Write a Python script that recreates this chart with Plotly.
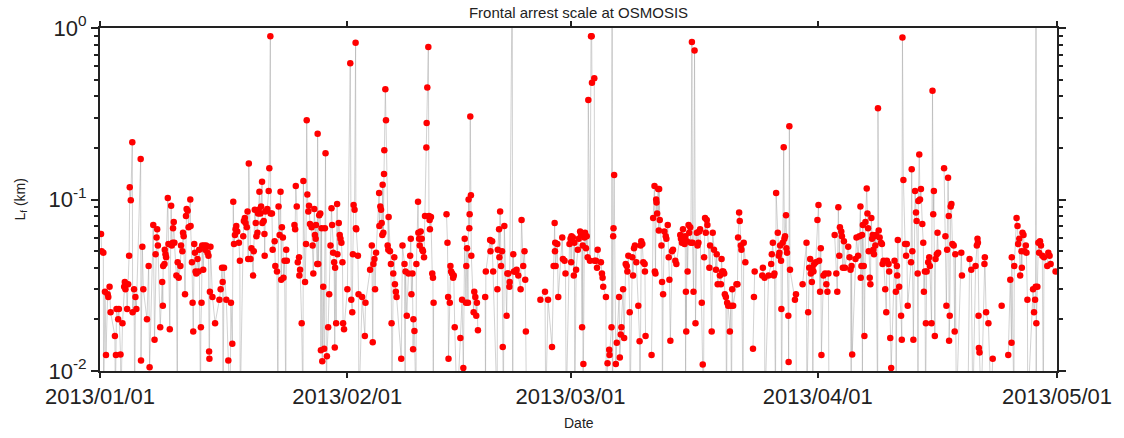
import numpy as np
import pandas as pd
import plotly.graph_objects as go

# Frontal arrest scale L_f (km) at the OSMOSIS site, Jan-Apr 2013.
# Times are days since 2013-01-01 00:00.

jan_t = [0.13, 0.21, 0.42, 0.45, 0.62, 0.75, 0.96, 1.04, 1.20, 1.33, 1.87, 1.92, 2.0, 2.07, 2.28, 2.37, 2.57, 2.61,
         2.82, 3.03, 3.11, 3.19, 3.32, 3.40, 3.53, 3.65, 3.73, 3.86, 4.05, 4.09, 4.27, 4.35, 4.44, 4.56, 5.10, 5.14,
         5.31, 5.43, 5.89, 6.10, 6.22, 6.68, 6.84, 6.97, 7.09, 7.17, 7.26, 7.55, 7.80, 7.88, 7.92, 8.09, 8.12, 8.21,
         8.29, 8.50, 8.58, 8.75, 8.92, 9.00, 9.12, 9.16, 9.25, 9.33, 9.58, 9.70, 9.74, 9.87, 10.08, 10.16, 10.33,
         10.41, 10.49, 10.66, 10.78, 10.86, 10.99, 11.11, 11.32, 11.36, 11.53, 11.61, 11.69, 11.82, 11.90, 11.98,
         12.07, 12.23, 12.36, 12.44, 12.60, 12.65, 12.73, 12.81, 12.94, 13.06, 13.19, 13.31, 13.48, 13.60, 13.68,
         13.72, 13.78, 13.85, 14.10, 14.43, 14.97, 15.13, 15.30, 15.38, 15.43, 15.55, 15.84, 16.09, 16.30, 16.42,
         16.59, 16.71, 16.80, 16.92, 17.00, 17.09, 17.21, 17.42, 17.54, 17.58, 17.96, 18.04, 18.16, 18.25, 18.41,
         18.50, 18.58, 18.66, 18.87, 18.99, 19.20, 19.28, 19.41, 19.53, 19.61, 19.74, 19.82, 19.90, 19.99, 20.11,
         20.20, 20.32, 20.36, 20.53, 20.62, 20.65, 20.73, 20.98, 21.15, 21.23, 21.36, 21.40, 21.56, 21.65, 21.90,
         21.98, 22.19, 22.31, 22.39, 22.52, 22.64, 22.72, 22.81, 22.93, 23.01, 23.14, 23.30, 23.35, 23.43, 24.38,
         24.47, 24.55, 24.67, 24.80, 24.96, 25.00, 25.09, 25.29, 25.45, 25.50, 25.71, 25.83, 25.92, 26.00, 26.12,
         26.21, 26.33, 26.54, 26.66, 26.75, 26.87, 26.95, 27.04, 27.08, 27.24, 27.29, 27.37, 27.49, 27.62, 27.70,
         27.78, 27.87, 27.99, 28.11, 28.20, 28.28, 28.40, 28.45, 28.61, 28.74, 28.90, 29.03, 29.11, 29.23, 29.36,
         29.44, 29.48, 29.61, 29.73, 29.77, 29.94, 30.06, 30.15, 30.27, 30.40, 30.48, 30.60]
jan_L = [0.063, 0.050, 0.049, 0.006, 0.029, 0.0124, 0.028, 0.027, 0.031, 0.022, 0.016, 0.006, 0.0124, 0.023, 0.020,
         0.023, 0.0125, 0.006, 0.019, 0.031, 0.033, 0.030, 0.032, 0.023, 0.032, 0.047, 0.118, 0.099, 0.216, 0.022,
         0.030, 0.006, 0.027, 0.023, 0.172, 0.0115, 0.053, 0.030, 0.020, 0.041, 0.0105, 0.071, 0.0152, 0.048, 0.060,
         0.067, 0.054, 0.018, 0.033, 0.024, 0.041, 0.042, 0.051, 0.048, 0.046, 0.102, 0.055, 0.0175, 0.092, 0.054,
         0.056, 0.068, 0.074, 0.056, 0.036, 0.006, 0.043, 0.035, 0.041, 0.054, 0.050, 0.064, 0.061, 0.028, 0.080,
         0.088, 0.086, 0.069, 0.100, 0.070, 0.043, 0.025, 0.017, 0.055, 0.049, 0.038, 0.037, 0.045, 0.038, 0.051,
         0.006, 0.018, 0.025, 0.054, 0.039, 0.054, 0.051, 0.054, 0.049, 0.047, 0.0130, 0.0118, 0.029, 0.053, 0.027,
         0.019, 0.026, 0.030, 0.040, 0.033, 0.006, 0.040, 0.026, 0.0115, 0.006, 0.025, 0.0144, 0.097, 0.055, 0.062,
         0.067, 0.070, 0.065, 0.056, 0.044, 0.006, 0.061, 0.075, 0.078, 0.073, 0.069, 0.085, 0.045, 0.162, 0.045,
         0.052, 0.036, 0.050, 0.087, 0.073, 0.061, 0.064, 0.083, 0.087, 0.111, 0.083, 0.091, 0.127, 0.073, 0.075,
         0.063, 0.047, 0.085, 0.088, 0.112, 0.152, 0.895, 0.083, 0.083, 0.051, 0.057, 0.041, 0.038, 0.006, 0.091,
         0.062, 0.111, 0.034, 0.069, 0.060, 0.035, 0.044, 0.006, 0.051, 0.044, 0.071, 0.067, 0.120, 0.091, 0.043,
         0.046, 0.036, 0.039, 0.019, 0.006, 0.128, 0.033, 0.055, 0.29, 0.107, 0.085, 0.092, 0.072, 0.069, 0.054,
         0.037, 0.088, 0.062, 0.059, 0.071, 0.042, 0.242, 0.042, 0.081, 0.083, 0.0132, 0.068, 0.0114, 0.031, 0.0135,
         0.068, 0.186, 0.006, 0.0122, 0.018, 0.028, 0.054, 0.089, 0.071, 0.049, 0.043, 0.0137, 0.040, 0.019, 0.094,
         0.048, 0.073, 0.062, 0.059, 0.056, 0.043, 0.019, 0.0175]

feb_t = [31.02, 31.38, 31.51, 31.63, 31.71, 31.80, 31.92, 32.05, 32.09, 32.13, 32.34, 32.42, 32.46, 32.87, 33.21,
         33.29, 33.87, 34.08, 34.20, 34.28, 34.41, 34.49, 34.62, 35.00, 35.03, 35.15, 35.24, 35.32, 35.40, 35.44,
         35.53, 35.61, 35.65, 35.78, 35.86, 36.07, 36.15, 36.19, 36.36, 36.48, 36.56, 36.60, 36.77, 36.90, 36.98,
         37.10, 37.19, 37.77, 37.93, 38.18, 38.26, 38.31, 38.47, 38.68, 38.89, 38.97, 39.05, 39.18, 39.26, 39.30,
         39.43, 39.62, 39.67, 39.88, 39.92, 40.01, 40.09, 40.21, 40.34, 40.42, 40.50, 40.63, 40.75, 40.92, 40.96,
         41.04, 41.17, 41.25, 41.33, 41.37, 41.50, 41.66, 41.75, 41.79, 41.83, 43.45, 43.57, 43.65, 43.70, 43.86,
         43.94, 44.03, 44.15, 44.28, 44.36, 44.48, 44.77, 45.19, 45.40, 45.56, 45.73, 45.89, 45.93, 46.02, 46.14,
         46.22, 46.31, 46.35, 46.43, 46.51, 46.56, 46.85, 46.93, 47.06, 47.18, 47.26, 47.39, 48.30, 48.34, 48.38,
         48.92, 48.96, 49.17, 49.30, 49.80, 49.83, 49.88, 50.04, 50.08, 50.17, 50.29, 50.41, 50.50, 50.58, 50.70,
         50.99, 51.08, 51.20, 51.33, 51.37, 51.70, 51.74, 51.82, 51.91, 52.03, 52.16, 52.24, 52.45, 52.74, 52.86,
         53.07, 53.23, 53.32, 53.40, 53.48, 55.22, 55.80, 55.89, 56.18, 56.68, 56.88, 57.01, 57.05, 57.08, 57.13,
         57.34, 57.46, 57.96, 58.04, 58.25, 58.37, 58.46, 58.87]
feb_L = [0.030, 0.622, 0.026, 0.022, 0.048, 0.093, 0.087, 0.82, 0.068, 0.067, 0.047, 0.028, 0.006, 0.027, 0.016,
         0.025, 0.039, 0.054, 0.0147, 0.042, 0.045, 0.030, 0.049, 0.109, 0.070, 0.091, 0.087, 0.073, 0.062, 0.122,
         0.064, 0.141, 0.194, 0.44, 0.29, 0.054, 0.051, 0.079, 0.050, 0.042, 0.019, 0.006, 0.037, 0.046, 0.032,
         0.029, 0.027, 0.0118, 0.054, 0.042, 0.006, 0.038, 0.021, 0.037, 0.047, 0.059, 0.028, 0.037, 0.0134, 0.020,
         0.0171, 0.006, 0.042, 0.097, 0.064, 0.059, 0.054, 0.065, 0.059, 0.051, 0.050, 0.046, 0.080, 0.201, 0.279,
         0.45, 0.776, 0.080, 0.076, 0.067, 0.079, 0.037, 0.035, 0.006, 0.025, 0.082, 0.056, 0.027, 0.0118, 0.025,
         0.041, 0.038, 0.037, 0.035, 0.036, 0.018, 0.006, 0.0156, 0.026, 0.0104, 0.059, 0.025, 0.041, 0.052, 0.025,
         0.100, 0.068, 0.082, 0.305, 0.106, 0.047, 0.022, 0.029, 0.027, 0.021, 0.025, 0.0173, 0.027, 0.006, 0.038,
         0.058, 0.050, 0.057, 0.038, 0.006, 0.030, 0.051, 0.067, 0.046, 0.085, 0.041, 0.050, 0.0138, 0.006, 0.070,
         0.021, 0.037, 0.037, 0.031, 0.033, 3.0, 0.003, 0.048, 0.038, 0.038, 0.038, 0.039, 0.036, 0.030, 0.076,
         0.041, 0.050, 0.034, 0.017, 0.006, 0.026, 0.029, 0.006, 0.026, 0.0138, 0.041, 0.073, 0.050, 0.056, 0.041,
         0.055, 0.027, 0.060, 0.045, 0.044, 0.037, 0.006, 0.055]

mar_t = [59.00, 59.08, 59.12, 59.29, 59.41, 59.49, 59.53, 59.70, 59.91, 60.03, 60.20, 60.32, 60.45, 60.53, 60.57,
         60.61, 60.74, 60.82, 60.94, 61.03, 61.15, 61.23, 61.44, 61.57, 61.65, 61.69, 61.98, 62.02, 62.19, 62.32,
         62.40, 62.81, 62.94, 63.02, 63.10, 63.44, 63.48, 63.64, 63.85, 63.89, 64.14, 64.22, 64.26, 64.35, 64.39,
         64.47, 64.68, 64.80, 65.09, 65.18, 65.30, 65.38, 65.59, 65.72, 65.92, 66.05, 66.13, 66.25, 66.42, 66.46,
         66.75, 66.84, 66.96, 67.08, 67.25, 67.50, 67.66, 67.71, 67.79, 67.87, 68.00, 68.12, 68.29, 68.33, 68.41,
         69.16, 69.36, 69.53, 69.57, 69.65, 69.74, 69.78, 69.86, 69.99, 70.07, 70.11, 70.19, 70.40, 70.48, 70.52,
         70.61, 70.77, 70.94, 71.02, 71.19, 71.31, 71.40, 71.52, 71.73, 71.85, 72.14, 72.27, 72.76, 72.85, 72.97,
         73.10, 73.18, 73.30, 73.39, 73.43, 73.47, 73.51, 73.60, 73.68, 73.80, 73.88, 74.01, 74.09, 74.22, 74.30,
         74.42, 74.55, 74.67, 74.84, 74.92, 75.04, 75.13, 75.25, 75.46, 75.58, 75.67, 75.75, 75.87, 75.96, 76.08,
         76.16, 76.41, 76.50, 76.70, 76.83, 76.99, 77.24, 77.33, 77.45, 77.73, 77.86, 77.94, 78.02, 78.15, 78.27,
         78.35, 78.48, 78.56, 78.64, 78.77, 78.98, 79.10, 79.18, 79.27, 79.39, 79.81, 79.93, 80.01, 80.14, 80.22,
         80.35, 80.43, 80.63, 80.72, 80.92, 81.88, 82.00, 82.09, 83.04, 83.12, 83.33, 83.37, 83.83, 84.16, 84.24,
         84.37, 84.49, 84.57, 84.70, 84.78, 84.99, 85.11, 85.19, 85.28, 85.40, 85.44, 85.47, 85.61, 85.73, 85.82,
         85.90, 86.02, 86.07, 86.15, 86.31, 86.35, 86.44, 86.52, 87.14, 87.27, 87.31, 88.10, 88.59, 88.63, 88.80,
         88.93, 89.05, 89.13, 89.26, 89.34, 89.38, 89.46, 89.55, 89.75, 89.96]
mar_L = [0.059, 0.043, 0.061, 0.060, 0.036, 0.056, 0.006, 0.039, 0.051, 0.059, 0.065, 0.062, 0.018, 0.054, 0.006,
         0.0110, 0.060, 0.064, 0.052, 0.061, 0.046, 0.38, 0.044, 0.895, 0.895, 0.48, 0.51, 0.044, 0.044, 0.040,
         0.051, 0.043, 0.037, 0.035, 0.031, 0.027, 0.006, 0.0111, 0.0133, 0.0124, 0.018, 3.0, 0.003, 0.061, 0.068,
         0.139, 0.0110, 0.0146, 0.027, 0.0120, 0.0163, 0.018, 0.030, 0.0156, 0.042, 0.041, 0.038, 0.047, 0.022,
         0.006, 0.046, 0.036, 0.052, 0.054, 0.043, 0.024, 0.0149, 0.006, 0.054, 0.057, 0.055, 0.043, 0.042, 0.038,
         0.016, 0.0124, 0.078, 0.120, 0.038, 0.037, 0.100, 0.096, 0.083, 0.115, 0.066, 0.115, 0.076, 0.054, 0.033,
         0.006, 0.028, 0.065, 0.061, 0.059, 0.071, 0.046, 0.034, 0.015, 0.050, 0.051, 0.044, 0.042, 0.062, 0.059,
         0.056, 0.067, 0.059, 0.055, 0.061, 0.006, 0.029, 0.017, 0.057, 0.038, 0.071, 0.064, 0.069, 0.056, 0.83,
         0.056, 0.029, 0.74, 0.019, 0.064, 0.054, 0.056, 0.065, 0.067, 0.025, 0.0109, 0.006, 0.046, 0.078, 0.064,
         0.076, 0.071, 0.040, 0.054, 0.017, 0.064, 0.051, 0.039, 0.048, 0.032, 0.036, 0.032, 0.045, 0.038, 0.038,
         0.037, 0.028, 0.027, 0.006, 0.025, 0.024, 0.017, 0.024, 0.006, 0.030, 0.024, 0.032, 0.032, 0.060, 0.084,
         0.075, 0.054, 0.051, 0.006, 0.056, 0.043, 0.0135, 0.027, 0.038, 0.036, 0.040, 0.035, 0.006, 0.036, 0.042,
         0.048, 0.056, 0.036, 0.037, 0.006, 0.109, 0.064, 0.047, 0.049, 0.054, 0.044, 0.023, 0.006, 0.056, 0.202,
         0.059, 0.061, 0.081, 0.052, 0.049, 0.021, 0.0113, 0.267, 0.039, 0.026, 0.028, 0.006, 0.032, 0.056, 0.006,
         0.022, 0.040, 0.045, 0.037, 0.033, 0.040, 0.006, 0.038, 0.042, 0.043, 0.076]

apr_t = [90.09, 90.17, 90.29, 90.38, 90.46, 90.71, 90.92, 91.08, 91.21, 91.33, 91.41, 92.12, 92.33, 92.45, 92.58,
         92.70, 92.78, 92.95, 93.03, 93.15, 93.28, 93.41, 93.82, 93.99, 94.11, 94.20, 94.24, 94.32, 94.73, 94.86,
         95.06, 95.23, 95.35, 95.39, 95.48, 95.56, 95.60, 95.65, 95.77, 95.85, 95.98, 96.14, 96.23, 96.31, 96.39,
         96.52, 96.60, 96.72, 96.81, 96.89, 96.97, 97.05, 97.14, 97.22, 97.30, 97.51, 97.55, 97.64, 97.76, 97.93,
         98.05, 98.13, 98.26, 98.46, 98.59, 98.67, 98.88, 98.96, 99.09, 99.21, 99.63, 99.79, 99.83, 99.92, 99.96,
         100.04, 100.21, 100.45, 100.54, 100.62, 100.74, 100.95, 101.08, 101.16, 101.28, 101.70, 101.78, 101.86,
         101.99, 102.20, 102.32, 102.40, 102.53, 102.57, 102.61, 102.73, 102.82, 102.94, 103.11, 103.23, 103.31,
         103.44, 103.52, 103.56, 103.65, 103.85, 103.98, 104.06, 104.27, 104.39, 104.48, 104.56, 104.68, 104.77,
         104.93, 105.02, 105.10, 105.84, 106.01, 106.13, 106.22, 106.34, 106.43, 106.47, 106.55, 106.67, 106.76,
         106.88, 107.05, 107.17, 107.25, 107.38, 108.00, 108.08, 108.83, 109.04, 109.25, 109.45, 109.79, 109.95,
         110.03, 110.08, 110.16, 110.20, 110.28, 110.49, 110.90, 110.95, 111.11, 111.40, 111.73, 111.94, 113.06,
         113.89, 114.14, 114.30, 114.33, 114.60, 114.64, 114.93, 115.05, 115.13, 115.26, 115.38, 115.55, 115.59,
         115.67, 115.80, 115.92, 116.09, 116.17, 116.29, 116.33, 117.00, 117.12, 117.25, 117.33, 117.37, 117.39,
         117.41, 117.54, 117.66, 117.75, 117.87, 117.99, 118.16, 118.28, 118.37, 118.78, 118.91, 119.07, 119.20,
         119.82]
apr_L = [0.093, 0.044, 0.029, 0.052, 0.0124, 0.036, 0.037, 0.032, 0.029, 0.037, 0.006, 0.062, 0.037, 0.029, 0.090,
         0.047, 0.069, 0.065, 0.061, 0.040, 0.057, 0.040, 0.053, 0.046, 0.039, 0.006, 0.041, 0.0125, 0.045, 0.060,
         0.047, 0.061, 0.091, 0.035, 0.041, 0.062, 0.006, 0.071, 0.041, 0.016, 0.074, 0.116, 0.083, 0.068, 0.050,
         0.035, 0.032, 0.078, 0.059, 0.062, 0.051, 0.048, 0.061, 0.054, 0.062, 0.006, 0.34, 0.066, 0.060, 0.056,
         0.055, 0.042, 0.044, 0.030, 0.022, 0.044, 0.042, 0.038, 0.0156, 0.0104, 0.044, 0.029, 0.006, 0.041, 0.036,
         0.058, 0.031, 0.021, 0.0152, 0.88, 0.130, 0.055, 0.047, 0.055, 0.024, 0.043, 0.150, 0.050,
         0.0152, 0.112, 0.084, 0.075, 0.037, 0.006, 0.098, 0.183, 0.100, 0.115, 0.072, 0.056, 0.029,
         0.038, 0.006, 0.019, 0.038, 0.043, 0.046, 0.041, 0.019, 0.43, 0.082, 0.112, 0.016, 0.045,
         0.048, 0.064, 0.049, 0.152, 0.061, 0.024, 0.051, 0.134, 0.080, 0.015, 0.021, 0.091, 0.094,
         0.055, 0.054, 0.017, 0.048, 0.006, 0.049, 0.036, 0.006, 0.045, 0.039, 0.006, 0.041, 0.054,
         0.059, 0.056, 0.021, 0.0136, 0.0128, 0.006, 0.042, 0.046, 0.022, 0.019, 0.006, 0.0118, 0.024,
         0.0124, 0.034, 0.0146, 0.046, 0.006, 0.041, 0.078, 0.070, 0.055, 0.059, 0.036, 0.050, 0.040,
         0.064, 0.062, 0.050, 0.054, 0.049, 0.026, 0.006, 0.030, 0.022, 0.026, 0.031, 3.0, 0.003,
         0.019, 0.031, 0.056, 0.049, 0.057, 0.054, 0.047, 0.006, 0.046, 0.041, 0.049, 0.047, 0.042,
         0.038]

month_ticks = ["2013-01-01", "2013-02-01", "2013-03-01", "2013-04-01", "2013-05-01"]
month_labels = ["2013/01/01", "2013/02/01", "2013/03/01", "2013/04/01", "2013/05/01"]
decade_ticks = [0.01, 0.1, 1]
decade_labels = ["10<sup>-2</sup>", "10<sup>-1</sup>", "10<sup>0</sup>"]

days = np.array(jan_t + feb_t + mar_t + apr_t)
lf = np.array(jan_L + feb_L + mar_L + apr_L)
order = np.argsort(days, kind="stable")
days, lf = days[order], lf[order]
times = pd.Timestamp("2013-01-01") + pd.to_timedelta(days, unit="D")

# break the connecting line across data gaps longer than ~0.7 day
line_x, line_y = [], []
for i, (t, v) in enumerate(zip(times, lf)):
    if i > 0 and days[i] - days[i - 1] > 0.7:
        line_x.append(None)
        line_y.append(None)
    line_x.append(t)
    line_y.append(v)

FONT = "Liberation Sans, Arial, Helvetica, sans-serif"
INK = "#222222"

fig = go.Figure()
fig.add_trace(go.Scatter(
    x=line_x, y=line_y, mode="lines", connectgaps=False,
    line=dict(color="rgba(165,165,165,0.5)", width=1),
    hoverinfo="skip", showlegend=False,
))
fig.add_trace(go.Scatter(
    x=times, y=lf, mode="markers",
    marker=dict(color="#ff0000", size=6.5, line=dict(width=0)),
    showlegend=False,
))

minor_vals = [m * 10.0 ** e for e in (-2, -1) for m in range(2, 10)]

fig.update_layout(
    width=1124, height=438,
    margin=dict(l=100, r=59, t=25, b=67),
    paper_bgcolor="white", plot_bgcolor="white",
    font=dict(family=FONT, color=INK),
    title=dict(text="Frontal arrest scale at OSMOSIS", font=dict(size=15, color=INK),
               x=0.5, xref="paper", xanchor="center",
               y=1 - 13 / 438, yref="container", yanchor="middle"),
    xaxis=dict(
        type="date", range=["2013-01-01", "2013-05-01"],
        tickmode="array", tickvals=month_ticks, ticktext=month_labels,
        tickfont=dict(size=22, color=INK),
        ticks="outside", ticklen=5, tickwidth=2, tickcolor=INK,
        showline=True, linewidth=2, linecolor=INK, mirror="allticks",
        showgrid=False, zeroline=False,
    ),
    yaxis=dict(
        type="log", range=[-2, 0],
        tickmode="array", tickvals=decade_ticks, ticktext=decade_labels,
        tickfont=dict(size=22, color=INK),
        ticks="outside", ticklen=7, tickwidth=2, tickcolor=INK,
        minor=dict(tickmode="array", tickvals=minor_vals, ticks="outside",
                   ticklen=4, tickwidth=1.5, tickcolor=INK, showgrid=False),
        showline=True, linewidth=2, linecolor=INK, mirror="allticks",
        showgrid=False, zeroline=False,
    ),
    annotations=[
        dict(text="Date", xref="paper", yref="paper", x=0.5, y=0,
             xanchor="center", yanchor="middle", yshift=-52,
             showarrow=False, font=dict(size=14, color=INK)),
        dict(text="L<sub>f</sub> (km)", xref="paper", yref="paper", x=0, y=0.5,
             xanchor="center", yanchor="middle", xshift=-80, textangle=-90,
             showarrow=False, font=dict(size=14, color=INK)),
    ],
)

fig.write_html("out.html")
